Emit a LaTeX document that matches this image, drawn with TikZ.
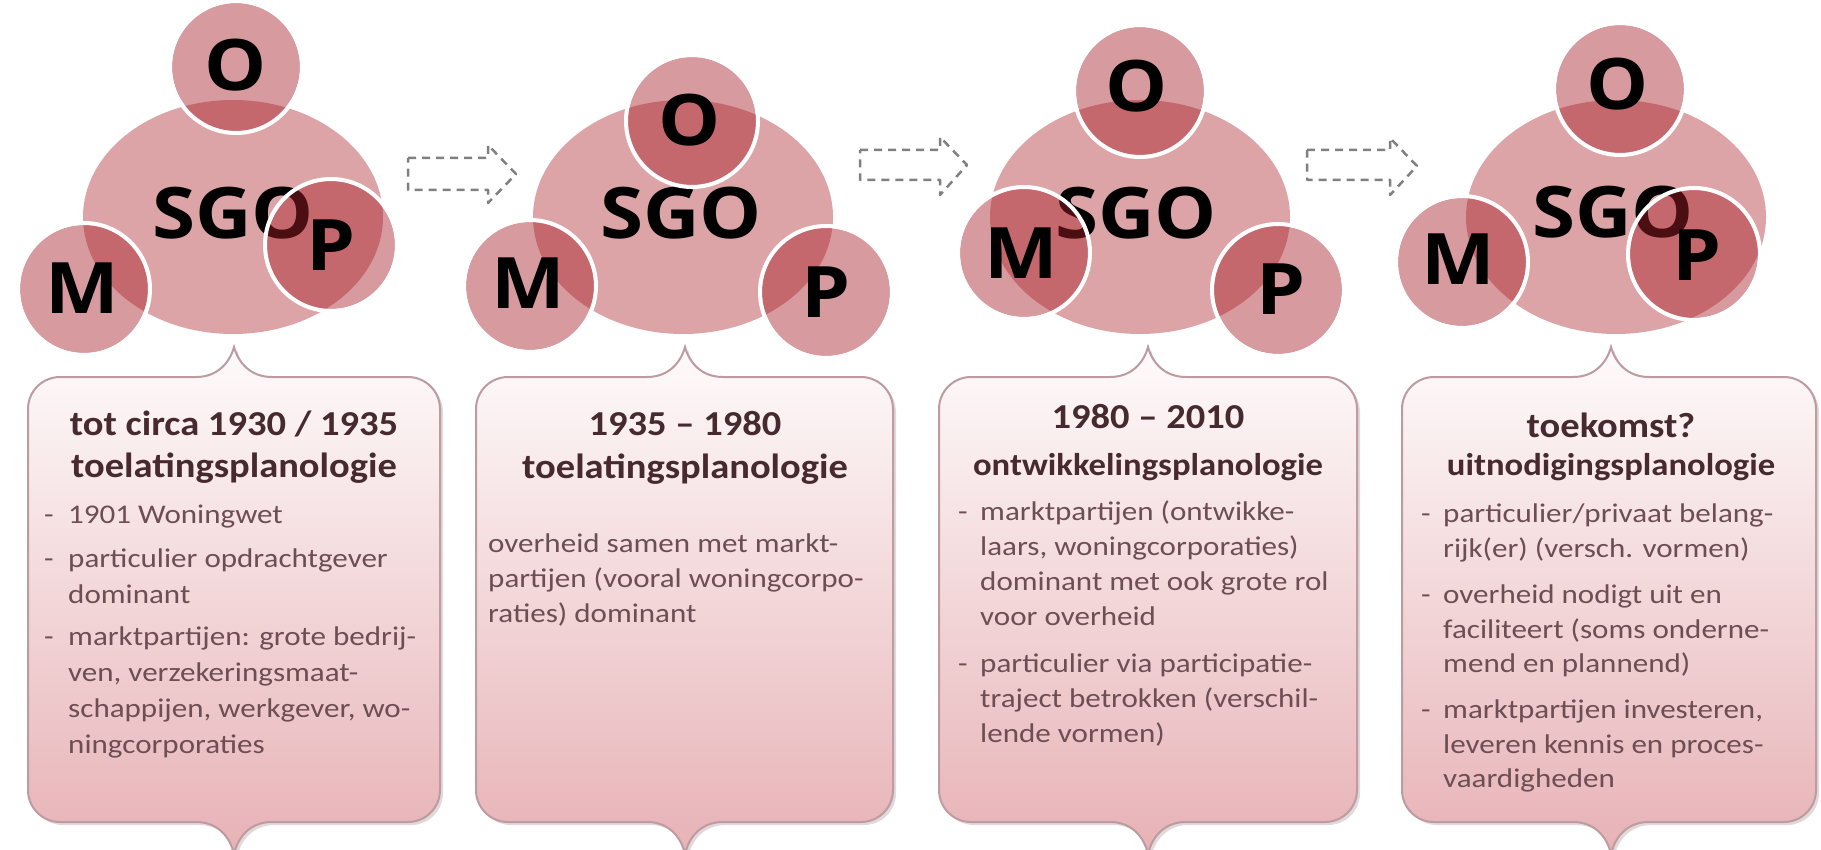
\documentclass[tikz,border=0pt]{standalone}
\usepackage{fontspec}
\setmainfont{Carlito}
\newfontfamily\bigfont{Open Sans}
\definecolor{bigfill}{RGB}{221,164,167}
\definecolor{smallfill}{RGB}{167,33,40}
\definecolor{headc}{RGB}{70,42,48}
\definecolor{bodyc}{RGB}{108,78,84}
\definecolor{boxtop}{RGB}{254,251,251}
\definecolor{boxmid}{RGB}{246,224,226}
\definecolor{boxbot}{RGB}{231,178,182}
\definecolor{boxline}{RGB}{190,155,160}
\definecolor{shadowc}{RGB}{205,190,192}
\definecolor{arrowc}{RGB}{128,128,128}
\newcommand\boxpath[3]{%
 (#1,409) .. controls (#1,391.3) and (#1+14.3,377) .. (#1+32,377)
 -- (#3-38,377) .. controls (#3-16,377) and (#3-4,362) .. (#3,347)
 .. controls (#3+4,362) and (#3+16,377) .. (#3+38,377)
 -- (#2-32,377) .. controls (#2-14.3,377) and (#2,391.3) .. (#2,409)
 -- (#2,790) .. controls (#2,807.7) and (#2-14.3,822) .. (#2-32,822)
 -- (#3+38,822) .. controls (#3+16,822) and (#3+4,837) .. (#3,854)
 .. controls (#3-4,837) and (#3-16,822) .. (#3-38,822)
 -- (#1+32,822) .. controls (#1+14.3,822) and (#1,807.7) .. (#1,790) -- cycle}
\newcommand\smallcirc[2]{\fill[smallc] (#1,#2) circle[radius=64pt];}
\newcommand\ringcirc[2]{\draw[ringc] (#1,#2) circle[radius=66pt];}
\tikzset{
 bigc/.style={fill=bigfill},
 smallc/.style={fill=smallfill, fill opacity=0.45},
 ringc/.style={draw=white, line width=4pt},
 letter/.style={font=\bigfont\fontsize{71}{71}\selectfont\bfseries, text=black, inner sep=0pt, xscale=1.1},
 head/.style={font=\fontsize{35}{42}\selectfont\bfseries, text=headc, anchor=base, inner sep=0pt, xscale=1.1},
 headsm/.style={font=\fontsize{31.5}{38}\selectfont\bfseries, text=headc, anchor=base, inner sep=0pt, xscale=1.1},
 body/.style={font=\fontsize{27}{33}\selectfont, text=bodyc, anchor=base west, inner sep=0pt, xscale=1.15},
 arrowline/.style={draw=arrowc, dash pattern=on 8pt off 6pt, line width=2.5pt, line join=round},
 boxshadow/.style={fill=shadowc, fill opacity=0.6},
 boxfill/.style={draw=boxline, line width=2pt, top color=boxtop, middle color=boxmid, bottom color=boxbot}
}
\begin{document}
\begin{tikzpicture}[x=1pt,y=-1pt]
\useasboundingbox (0,0) rectangle (1821,850);
\fill[white] (0,0) rectangle (1821,850);

% ---------- boxes ----------
\foreach \L/\R/\C in {28/440/234, 476/893/685, 939/1357/1148, 1402/1816/1611} {
  \path[boxshadow, shift={(3,3)}] \boxpath{\L}{\R}{\C};
  \path[boxfill] \boxpath{\L}{\R}{\C};
}

% ---------- panel 1 ----------
\fill[bigc] (233,217) ellipse[x radius=150pt, y radius=117pt];
\node[letter] (sgo1) at (233,213) {SGO};
\smallcirc{236}{67} \smallcirc{84}{289} \smallcirc{331}{245}
\ringcirc{236}{67} \ringcirc{84}{289} \ringcirc{331}{245}
\node[letter] (o1) at (236,65) {O};
\node[letter] (m1) at (82,288) {M};
\node[letter] (p1) at (331,245) {P};

% ---------- panel 2 ----------
\fill[bigc] (683,217) ellipse[x radius=150pt, y radius=117pt];
\node[letter] (sgo2) at (681,213) {SGO};
\smallcirc{692}{121} \smallcirc{530}{286} \smallcirc{826}{292}
\ringcirc{692}{121} \ringcirc{530}{286} \ringcirc{826}{292}
\node[letter] (o2) at (690,120) {O};
\node[letter] (m2) at (528,283) {M};
\node[letter] (p2) at (826,292) {P};

% ---------- panel 3 ----------
\fill[bigc] (1140,217) ellipse[x radius=150pt, y radius=117pt];
\node[letter] (sgo3) at (1136,213) {SGO};
\smallcirc{1140}{91} \smallcirc{1024}{253} \smallcirc{1278}{290}
\ringcirc{1140}{91} \ringcirc{1024}{253} \ringcirc{1278}{290}
\node[letter] (o3) at (1137,86) {O};
\node[letter] (m3) at (1021,253) {M};
\node[letter] (p3) at (1281,289) {P};

% ---------- panel 4 ----------
\fill[bigc] (1616,217) ellipse[x radius=150pt, y radius=117pt];
\node[letter] (sgo4) at (1613,212) {SGO};
\smallcirc{1620}{89} \smallcirc{1462}{262} \smallcirc{1694}{254}
\ringcirc{1620}{89} \ringcirc{1462}{262} \ringcirc{1694}{254}
\node[letter] (o4) at (1618,84) {O};
\node[letter] (m4) at (1458,259) {M};
\node[letter] (p4) at (1697,255) {P};

% ---------- arrows ----------
\draw[arrowline] (408,158) -- (488,158) -- (488,145) -- (516,174) -- (488,203) -- (488,190) -- (408,190) -- cycle;
\draw[arrowline] (860,150) -- (940,150) -- (940,137) -- (967,165) -- (940,195) -- (940,180) -- (860,180) -- cycle;
\draw[arrowline] (1307,150) -- (1390,150) -- (1390,138) -- (1417,166) -- (1390,195) -- (1390,180) -- (1307,180) -- cycle;

% ---------- box 1 ----------
\node[head] (h1a) at (234,435) {tot circa 1930 / 1935};
\node[head] (h1b) at (234,477) {toelatingsplanologie};
\foreach \y [count=\i] in {523,567,645} \node[body] (d1-\i) at (44,\y) {-};
\foreach \y/\t [count=\i] in {523/{1901 Woningwet}, 567/{particulier opdrachtgever}, 603/{dominant},
  645/{marktpartijen: grote bedrij-}, 681/{ven, verzekeringsmaat-}, 717/{schappijen, werkgever, wo-},
  753/{ningcorporaties}}
  \node[body] (b1-\i) at (68,\y) {\t};

% ---------- box 2 ----------
\node[head] (h2a) at (685,435) {1935 – 1980};
\node[head] (h2b) at (685,478) {toelatingsplanologie};
\foreach \y/\t [count=\i] in {552/{overheid samen met markt-}, 587/{partijen (vooral woningcorpo-}, 622/{raties) dominant}}
  \node[body] (b2-\i) at (488,\y) {\t};

% ---------- box 3 ----------
\node[head] (h3a) at (1148,428) {1980 – 2010};
\node[headsm] (h3b) at (1148,475) {ontwikkelingsplanologie};
\foreach \y [count=\i] in {520,672} \node[body] (d3-\i) at (958,\y) {-};
\foreach \y/\t [count=\i] in {520/{marktpartijen (ontwikke-}, 555/{laars, woningcorporaties)}, 590/{dominant met ook grote rol},
  625/{voor overheid}, 672/{particulier via participatie-}, 707/{traject betrokken (verschil-}, 742/{lende vormen)}}
  \node[body] (b3-\i) at (980,\y) {\t};

% ---------- box 4 ----------
\node[head] (h4a) at (1611,437) {toekomst?};
\node[headsm] (h4b) at (1611,475) {uitnodigingsplanologie};
\foreach \y [count=\i] in {522,603,718} \node[body] (d4-\i) at (1421,\y) {-};
\foreach \y/\t [count=\i] in {522/{particulier/privaat belang-}, 557/{rijk(er) (versch. vormen)}, 603/{overheid nodigt uit en},
  638/{faciliteert (soms onderne-}, 672/{mend en plannend)}, 718/{marktpartijen investeren,},
  753/{leveren kennis en proces-}, 787/{vaardigheden}}
  \node[body] (b4-\i) at (1443,\y) {\t};
\end{tikzpicture}
\end{document}
